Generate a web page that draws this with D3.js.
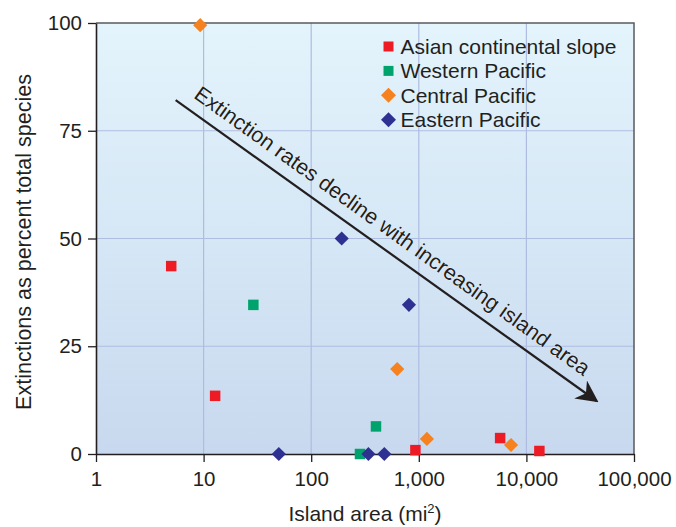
<!DOCTYPE html>
<html>
<head>
<meta charset="utf-8">
<script src="https://cdn.jsdelivr.net/npm/d3@7"></script>
<style>
  body { margin: 0; background: #fff; }
  svg text { font-family: "Liberation Sans", Arial, Helvetica, sans-serif; fill: #231f20; }
</style>
</head>
<body>
<div id="chart"></div>
<script>
// data: [island area mi2, extinctions %]
var asian = [[5, 43.6], [12.8, 13.5], [930, 0.9], [5700, 3.7], [13200, 0.7]];
var western = [[29, 34.6], [400, 6.4], [284, 0]];
var central = [[9.3, 99.5], [630, 19.7], [1190, 3.5], [7200, 2.1]];
var eastern = [[50, 0], [192, 50], [340, 0], [478, 0], [810, 34.6]];

var seriesNames = ["Asian continental slope", "Western Pacific", "Central Pacific", "Eastern Pacific"];
var seriesColors = ["#ed1c24", "#00a36c", "#f5821f", "#2e3192"];
var seriesShapes = ["square", "square", "diamond", "diamond"];
var seriesData = [asian, western, central, eastern];

var xTicks = [1, 10, 100, 1000, 10000, 100000];
var yTicks = [0, 25, 50, 75, 100];

// arrow annotation, in data coords
var arrowFrom = [5.5, 82.1];
var arrowTo = [45000, 12.3];
var arrowText = "Extinction rates decline with increasing island area";

var width = 676, height = 527;
var margin = {left: 96, top: 23, right: 42, bottom: 73};

var svg = d3.select("#chart").append("svg")
  .attr("width", width)
  .attr("height", height);

var x = d3.scaleLog().domain([1, 100000]).range([margin.left, width - margin.right]);
var y = d3.scaleLinear().domain([0, 100]).range([height - margin.bottom, margin.top]);

//background gradient
var defs = svg.append("defs");
var grad = defs.append("linearGradient").attr("id", "bg").attr("x1", 0).attr("y1", 0).attr("x2", 0).attr("y2", 1);
grad.append("stop").attr("offset", "0%").attr("stop-color", "#e3f4fc");
grad.append("stop").attr("offset", "100%").attr("stop-color", "#c8d9ef");

svg.append("rect")
  .attr("x", x(1)).attr("y", y(100))
  .attr("width", x(100000) - x(1)).attr("height", y(0) - y(100))
  .attr("fill", "url(#bg)");

// grid
svg.append("g").selectAll("line").data(xTicks.slice(1, -1)).join("line")
  .attr("x1", d => x(d)).attr("x2", d => x(d))
  .attr("y1", y(100)).attr("y2", y(0))
  .attr("stroke", "#aebce2").attr("stroke-width", 1.2);
svg.append("g").selectAll("line").data(yTicks.slice(1, -1)).join("line")
  .attr("x1", x(1)).attr("x2", x(100000))
  .attr("y1", d => y(d)).attr("y2", d => y(d))
  .attr("stroke", "#aebce2").attr("stroke-width", 1.2);

// top and right frame
svg.append("path")
  .attr("d", "M" + x(1) + "," + y(100) + "H" + x(100000) + "V" + y(0))
  .attr("fill", "none").attr("stroke", "#58595b").attr("stroke-width", 1.5);

// axes
var xAxis = svg.append("g")
  .attr("transform", "translate(0," + y(0) + ")")
  .call(d3.axisBottom(x).tickValues(xTicks).tickFormat(d3.format(",")).tickSizeInner(8).tickSizeOuter(0).tickPadding(9));
var yAxis = svg.append("g")
  .attr("transform", "translate(" + x(1) + ",0)")
  .call(d3.axisLeft(y).tickValues(yTicks).tickSizeInner(8).tickSizeOuter(0).tickPadding(6));

[xAxis, yAxis].forEach(function(a) {
  a.select(".domain").attr("stroke", "#231f20").attr("stroke-width", 1.6);
  a.selectAll(".tick line").attr("stroke", "#231f20").attr("stroke-width", 1.3);
  a.selectAll(".tick text").attr("font-size", 20.5).attr("fill", "#231f20");
});

// axis titles
svg.append("text")
  .attr("x", (x(1) + x(100000)) / 2).attr("y", 521)
  .attr("text-anchor", "middle").attr("font-size", 21)
  .html('Island area (mi<tspan dy="-8" font-size="13">2</tspan><tspan dy="8">)</tspan>');

svg.append("text")
  .attr("transform", "translate(31,242) rotate(-90)")
  .attr("text-anchor", "middle").attr("font-size", 21.5)
  .text("Extinctions as percent total species");

// arrow
defs.append("marker").attr("id", "arrowhead")
  .attr("viewBox", "0 0 10 10").attr("refX", 9).attr("refY", 5)
  .attr("markerWidth", 22).attr("markerHeight", 22).attr("markerUnits", "userSpaceOnUse")
  .attr("orient", "auto")
  .append("path").attr("d", "M0,0 L10,5 L0,10 L3,5 Z").attr("fill", "#231f20");

var ax1 = x(arrowFrom[0]), ay1 = y(arrowFrom[1]), ax2 = x(arrowTo[0]), ay2 = y(arrowTo[1]);
svg.append("line")
  .attr("x1", ax1).attr("y1", ay1).attr("x2", ax2).attr("y2", ay2)
  .attr("stroke", "#231f20").attr("stroke-width", 2.2)
  .attr("marker-end", "url(#arrowhead)");

var ang = Math.atan2(ay2 - ay1, ax2 - ax1) * 180 / Math.PI;
svg.append("text")
  .attr("transform", "translate(" + (ax1 + 17) + "," + (ay1 - 3) + ") rotate(" + ang + ")")
  .attr("font-size", 21.5)
  .attr("stroke", "#ffffff").attr("stroke-width", 0.6).attr("paint-order", "stroke")
  .text(arrowText);

// points
var sym = {
  square: d3.symbol().type(d3.symbolSquare).size(110),
  diamond: d3.symbol().type(d3.symbolSquare).size(100)
};
seriesData.forEach(function(data, i) {
  svg.append("g").selectAll("path").data(data).join("path")
    .attr("d", sym[seriesShapes[i]]())
    .attr("transform", d => "translate(" + x(d[0]) + "," + y(d[1]) + ")" + (seriesShapes[i] == "diamond" ? " rotate(45)" : ""))
    .attr("fill", seriesColors[i]);
});

// legend
var legend = svg.append("g").attr("transform", "translate(388.5,46.5)");
seriesNames.forEach(function(name, i) {
  var g = legend.append("g").attr("transform", "translate(0," + (i * 24.4) + ")");
  g.append("path")
    .attr("d", seriesShapes[i] == "square" ? d3.symbol().type(d3.symbolSquare).size(100)() : d3.symbol().type(d3.symbolSquare).size(112)())
    .attr("transform", seriesShapes[i] == "diamond" ? "rotate(45)" : null)
    .attr("fill", seriesColors[i]);
  g.append("text").attr("x", 12).attr("y", 7.5).attr("font-size", 21).text(name);
});
</script>
</body>
</html>
